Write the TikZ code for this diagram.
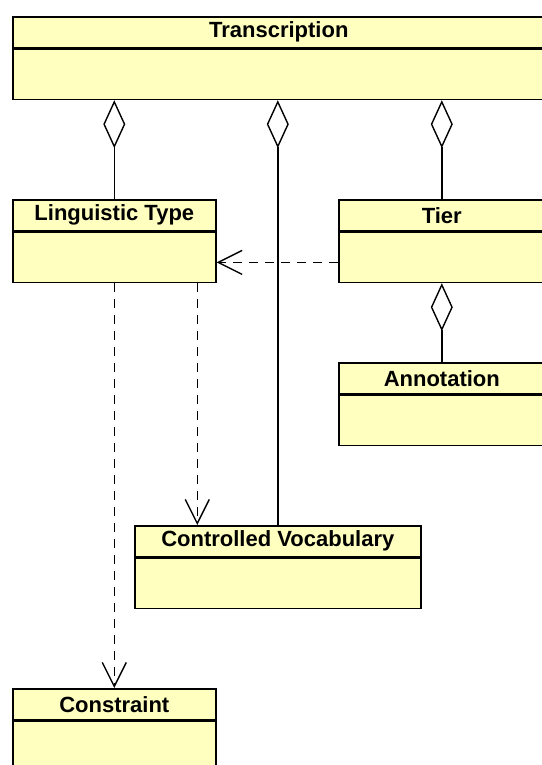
\documentclass[tikz,border=0pt]{standalone}
\usepackage{fontspec}
\newfontfamily\umlfont{Liberation Sans}
\usepackage{xcolor}
\usepackage{tikz}
\usetikzlibrary{arrows.meta, positioning}

\definecolor{classyellow}{HTML}{FFFFC0}

\begin{document}
\begin{tikzpicture}[x=1pt, y=-1pt,
  class/.style={draw, line width=1.6pt, fill=classyellow, inner sep=0pt},
  head/.style={class, minimum height=31pt, anchor=north west,
    font=\umlfont\bfseries\fontsize{22}{24}\selectfont},
  body/.style={class, minimum height=50pt},
  aggr/.style={line width=1.4pt, -{Diamond[open, length=48pt, width=22pt]}},
  dep/.style={line width=1.4pt, dash pattern=on 9pt off 7pt,
    -{Straight Barb[length=24pt, width=24pt]}}]
\useasboundingbox (0,0) rectangle (541,765);

% classes
\node[head, minimum width=532pt] (transH) at (12,16) {Transcription};
\node[body, minimum width=532pt, below=0pt of transH] (trans) {};
\node[head, minimum width=203pt] (ltH) at (12,199) {Linguistic Type};
\node[body, minimum width=203pt, below=0pt of ltH] (lt) {};
\node[head, minimum width=206pt] (tierH) at (338,199) {Tier};
\node[body, minimum width=206pt, below=0pt of tierH] (tier) {};
\node[head, minimum width=206pt] (annH) at (338,362) {Annotation};
\node[body, minimum width=206pt, below=0pt of annH] (ann) {};
\node[head, minimum width=286pt] (cvH) at (134,525) {Controlled Vocabulary};
\node[body, minimum width=286pt, below=0pt of cvH] (cv) {};
\node[head, minimum width=203pt] (consH) at (12,688) {Constraint};
\node[body, minimum width=203pt, below=0pt of consH] (cons) {};

% aggregations
\draw[aggr] (ltH.north) -- (ltH.north |- trans.south);
\draw[aggr] (cvH.north) -- (cvH.north |- trans.south);
\draw[aggr] (tierH.north) -- (tierH.north |- trans.south);
\draw[aggr] (annH.north) -- (annH.north |- tier.south);

% dependencies
\draw[dep] ([yshift=-5pt]tier.west) -- ([yshift=-5pt]tier.west -| lt.east);
\draw[dep] ([xshift=83pt]lt.south) -- ([xshift=83pt]lt.south |- cvH.north);
\draw[dep] (lt.south) -- (consH.north);
\end{tikzpicture}
\end{document}
